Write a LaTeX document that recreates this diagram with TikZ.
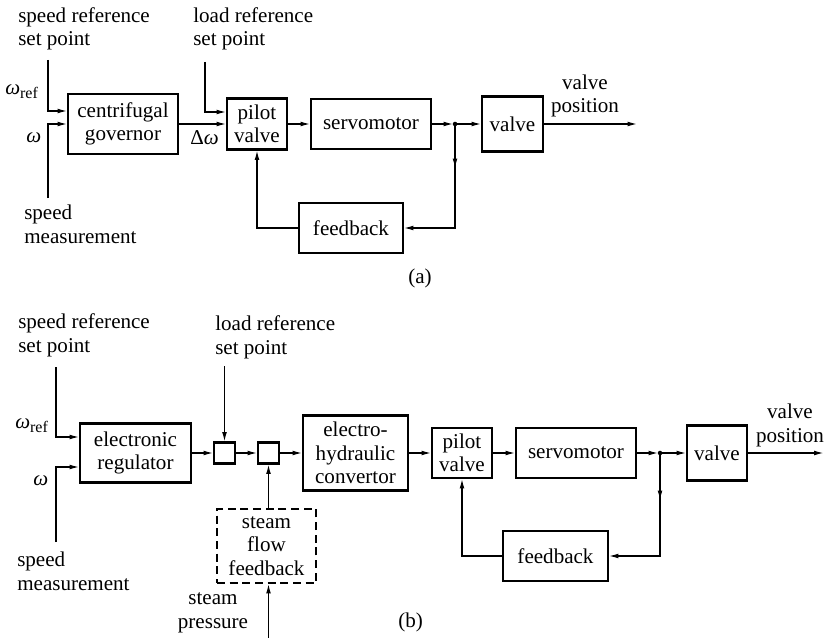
\documentclass[tikz,border=0pt]{standalone}
\usepackage{fontspec}
\setmainfont{Liberation Serif}
\usetikzlibrary{arrows.meta,calc}
\newcommand{\sref}{{\itshape ω}\raisebox{-3pt}{\fontsize{12}{12}\selectfont ref}}

\begin{document}
\begin{tikzpicture}[x=0.75pt,y=-0.75pt,
  every node/.style={font=\fontsize{15.8}{17.5}\selectfont, inner sep=0pt},
  sz/.style 2 args={minimum width={#1*0.75pt}, minimum height={#2*0.75pt}},
  blk/.style={draw, line width=1.6pt, align=center},
  dblk/.style={blk, dash pattern=on 6pt off 3.5pt},
  arr/.style={line width=0.9pt, -{Latex[length=7pt,width=3.6pt]}},
  lbl/.style={align=left, anchor=base west},
  clbl/.style={align=center, anchor=base},
  jdot/.style={fill, circle, minimum size=3.4pt, inner sep=0pt},
]
\useasboundingbox (0,0) rectangle (824,638);

% ---------- (a) mechanical-hydraulic governor ----------
\node[blk, sz={110}{60}] (gov) at (123,124) {centrifugal\\governor};
\node[blk, sz={60}{51}]  (pa)  at (257,124) {pilot\\valve};
\node[blk, sz={120}{50}] (sa)  at (371,124) {servomotor};
\node[blk, sz={61}{55}]  (va)  at (512.5,124) {valve};
\node[blk, sz={104}{50}] (fa)  at (351,228) {feedback};
\node[jdot] (da) at (455,124) {};

\coordinate (sra) at (48,60);
\coordinate (wma) at (48,198);
\coordinate (lra) at (205,62);
\coordinate (oa)  at (637,124);

\draw[arr] (sra) |- ($(gov.west)+(0,-13)$);
\draw[arr] (wma) |- (gov.west);
\draw[arr] (gov.east) -- (pa.west);
\draw[arr] (lra) |- ($(pa.west)+(0,-12)$);
\draw[arr] (pa.east) -- (sa.west);
\draw[arr, shorten >=1.5pt] (sa.east) -- (da.center);
\draw[arr] (da.center) -- (va.west);
\draw[arr] (va.east) -- (oa);
\draw[arr] (da.center) -- ++(0,44);
\draw[arr] (da.center) |- (fa.east);
\draw[arr] (fa.west) -| (pa.south);

% multi-line labels are placed by the baseline of their last line
\node[lbl] (t1a) at (18,46) {speed reference\\set point};
\node[lbl] (t2a) at (193,46) {load reference\\set point};
\node[lbl] (t3a) at (24,243) {speed\\measurement};
\node[clbl] (t4a) at (585,113) {valve\\position};
\node[anchor=base west] (w1a) at (5,95) {\sref};
\node[anchor=base west] (w2a) at (26,143) {\itshape ω};
\node[anchor=base west] (dwa) at (190,145) {Δ\itshape ω};
\node[anchor=base west] (capa) at (408,283) {(a)};

% ---------- (b) electro-hydraulic governor ----------
\node[blk, sz={111}{59}] (reg) at (135.5,453) {electronic\\regulator};
\node[blk, sz={21}{21}]  (s1)  at (224.5,453) {};
\node[blk, sz={21}{21}]  (s2)  at (268.5,453) {};
\node[blk, sz={105}{75}] (cv)  at (355.5,453) {electro-\\hydraulic\\convertor};
\node[dblk, sz={99}{74}] (sf)  at (266.5,546) {steam\\flow\\feedback};
\node[blk, sz={60}{50}]  (pb)  at (462,453) {pilot\\valve};
\node[blk, sz={120}{50}] (sb)  at (576,453) {servomotor};
\node[blk, sz={60}{55}]  (vb)  at (717,453) {valve};
\node[blk, sz={105}{50}] (fb)  at (555.5,556) {feedback};
\node[jdot] (db) at (660,453) {};

\coordinate (srb) at (56,367);
\coordinate (wmb) at (56,542);
\coordinate (lrb) at (224.5,366);
\coordinate (spb) at (268.5,638);
\coordinate (ob)  at (823.5,453);

\draw[arr] (srb) |- ($(reg.west)+(0,-16)$);
\draw[arr] (wmb) |- ($(reg.west)+(0,14)$);
\draw[arr] (reg.east) -- (s1.west);
\draw[arr] (lrb) -- (s1.north);
\draw[arr] (s1.east) -- (s2.west);
\draw[arr] (s2.east) -- (cv.west);
\draw[arr] (sf.north -| s2.south) -- (s2.south);
\draw[arr] (spb) -- (spb |- sf.south);
\draw[arr] (cv.east) -- (pb.west);
\draw[arr] (pb.east) -- (sb.west);
\draw[arr, shorten >=1.5pt] (sb.east) -- (db.center);
\draw[arr] (db.center) -- (vb.west);
\draw[arr] (vb.east) -- (ob);
\draw[arr] (db.center) -- ++(0,47);
\draw[arr] (db.center) |- (fb.east);
\draw[arr] (fb.west) -| (pb.south);

\node[lbl] (t1b) at (18,352) {speed reference\\set point};
\node[lbl] (t2b) at (215,354) {load reference\\set point};
\node[lbl] (t3b) at (17,590) {speed\\measurement};
\node[clbl] (t4b) at (790,442) {valve\\position};
\node[clbl] (t5b) at (213,628) {steam\\pressure};
\node[anchor=base west] (w1b) at (15,428) {\sref};
\node[anchor=base west] (w2b) at (33,485) {\itshape ω};
\node[anchor=base west] (capb) at (398,627) {(b)};
\end{tikzpicture}
\end{document}
